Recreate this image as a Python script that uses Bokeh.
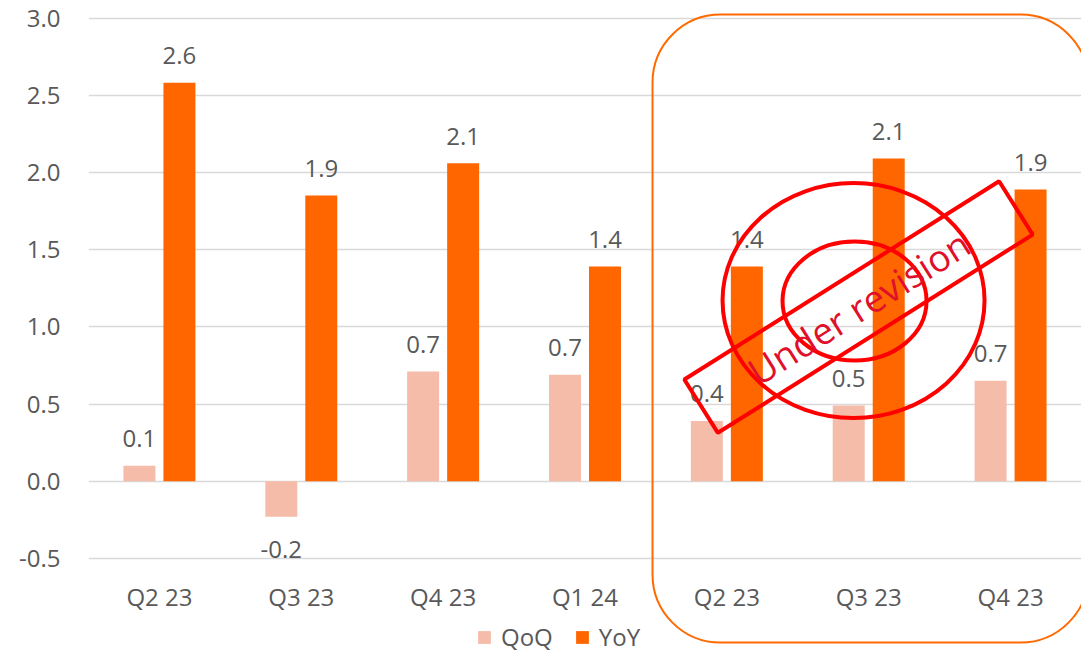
import math
from bokeh.plotting import figure
from bokeh.models import (ColumnDataSource, Range1d, FixedTicker, Legend, LegendItem,
                          BoxAnnotation, CustomJSTickFormatter)
from bokeh.core.properties import value
from bokeh.embed import file_html
from bokeh.resources import INLINE

categories = ["Q2 23", "Q3 23", "Q4 23", "Q1 24", "Q2 23", "Q3 23", "Q4 23"]
qoq = [0.10, -0.23, 0.71, 0.69, 0.39, 0.49, 0.65]
yoy = [2.58, 1.85, 2.06, 1.39, 1.39, 2.09, 1.89]
qoq_labels = ["0.1", "-0.2", "0.7", "0.7", "0.4", "0.5", "0.7"]
yoy_labels = ["2.6", "1.9", "2.1", "1.4", "1.4", "2.1", "1.9"]
y_ticks = [-0.5, 0.0, 0.5, 1.0, 1.5, 2.0, 2.5, 3.0]
stamp_text = "Under revision"

FONT = "Open Sans"
GRAY = "#595959"
C_QOQ = "#F5BCA9"
C_YOY = "#FF6600"
FS = "24px"

idx = list(range(len(categories)))
off = 0.141
bw = 0.2255

src_q = ColumnDataSource(dict(x=[i - off for i in idx], top=qoq, lab=qoq_labels,
                              yo=[-27 if v >= 0 else 33 for v in qoq]))
src_y = ColumnDataSource(dict(x=[i + off for i in idx], top=yoy, lab=yoy_labels,
                              yo=[-27 if v >= 0 else 33 for v in yoy]))

p = figure(width=1081, height=654, output_backend="svg", toolbar_location=None,
           x_range=Range1d(-0.5, 6.5), y_range=Range1d(-1.1224, 3.1134),
           min_border_top=0, min_border_left=88, min_border_right=0, min_border_bottom=0)
p.outline_line_color = None
p.background_fill_color = "white"
p.border_fill_color = "white"

# grid
p.xgrid.grid_line_color = None
p.ygrid.grid_line_color = "#D9D9D9"
p.ygrid.grid_line_width = 1.5
p.yaxis.ticker = FixedTicker(ticks=y_ticks)
p.yaxis.formatter = CustomJSTickFormatter(code="return tick.toFixed(1);")

for ax in (p.xaxis[0], p.yaxis[0]):
    ax.axis_line_color = None
    ax.major_tick_line_color = None
    ax.minor_tick_line_color = None
    ax.major_tick_out = 0
    ax.major_tick_in = 0
    ax.major_label_text_font = FONT
    ax.major_label_text_font_size = FS
    ax.major_label_text_color = GRAY
p.yaxis.major_label_standoff = 28
p.xaxis.ticker = FixedTicker(ticks=idx)
p.xaxis.major_label_overrides = {i: c for i, c in zip(idx, categories)}
p.xaxis.fixed_location = -0.5
p.xaxis.major_label_standoff = 22

rq = p.vbar(x="x", top="top", bottom=0, width=bw, source=src_q,
            fill_color=C_QOQ, line_color=None)
ry = p.vbar(x="x", top="top", bottom=0, width=bw, source=src_y,
            fill_color=C_YOY, line_color=None)

for s in (src_q, src_y):
    p.text(x="x", y="top", text="lab", source=s, y_offset="yo",
           text_align="center", text_baseline="alphabetic",
           text_font=value(FONT), text_font_size=FS, text_color=GRAY)

# highlight box around revised quarters
box = BoxAnnotation(left=3.476, right=6.549, top=3.0227, bottom=-1.0447,
                    fill_alpha=0, line_color="#FF6A00", line_alpha=1, line_width=2,
                    border_radius=68, level="overlay")
p.add_layout(box)

# stamp
p.ellipse(x=[4.893], y=[1.170], width=[262], height=[235], width_units="screen",
          height_units="screen", fill_color=None, line_color="#FF0000", line_width=4)
p.ellipse(x=[4.900], y=[1.167], width=[144], height=[119], width_units="screen",
          height_units="screen", fill_color=None, line_color="#FF0000", line_width=4)
p.rect(x=[4.928], y=[1.128], width=[372], height=[63], width_units="screen",
       height_units="screen", angle=[math.radians(32.2)], fill_color=None,
       line_color="#FF0000", line_width=4)
p.text(x=[4.928], y=[1.128], text=[stamp_text], angle=[math.radians(32.2)],
       text_align="center", text_baseline="middle", text_font=value(FONT),
       text_font_size="37px", text_color="#E0102A")

legend = Legend(items=[LegendItem(label="QoQ", renderers=[rq]),
                       LegendItem(label="YoY", renderers=[ry])],
                orientation="horizontal", location=(388, 1),
                glyph_width=16, glyph_height=16, label_standoff=9, spacing=21,
                label_text_font=FONT, label_text_font_size=FS,
                label_text_color=GRAY, border_line_color=None,
                background_fill_alpha=0, padding=0, margin=0)
p.add_layout(legend)

open("out.html", "w").write(file_html(p, INLINE))
